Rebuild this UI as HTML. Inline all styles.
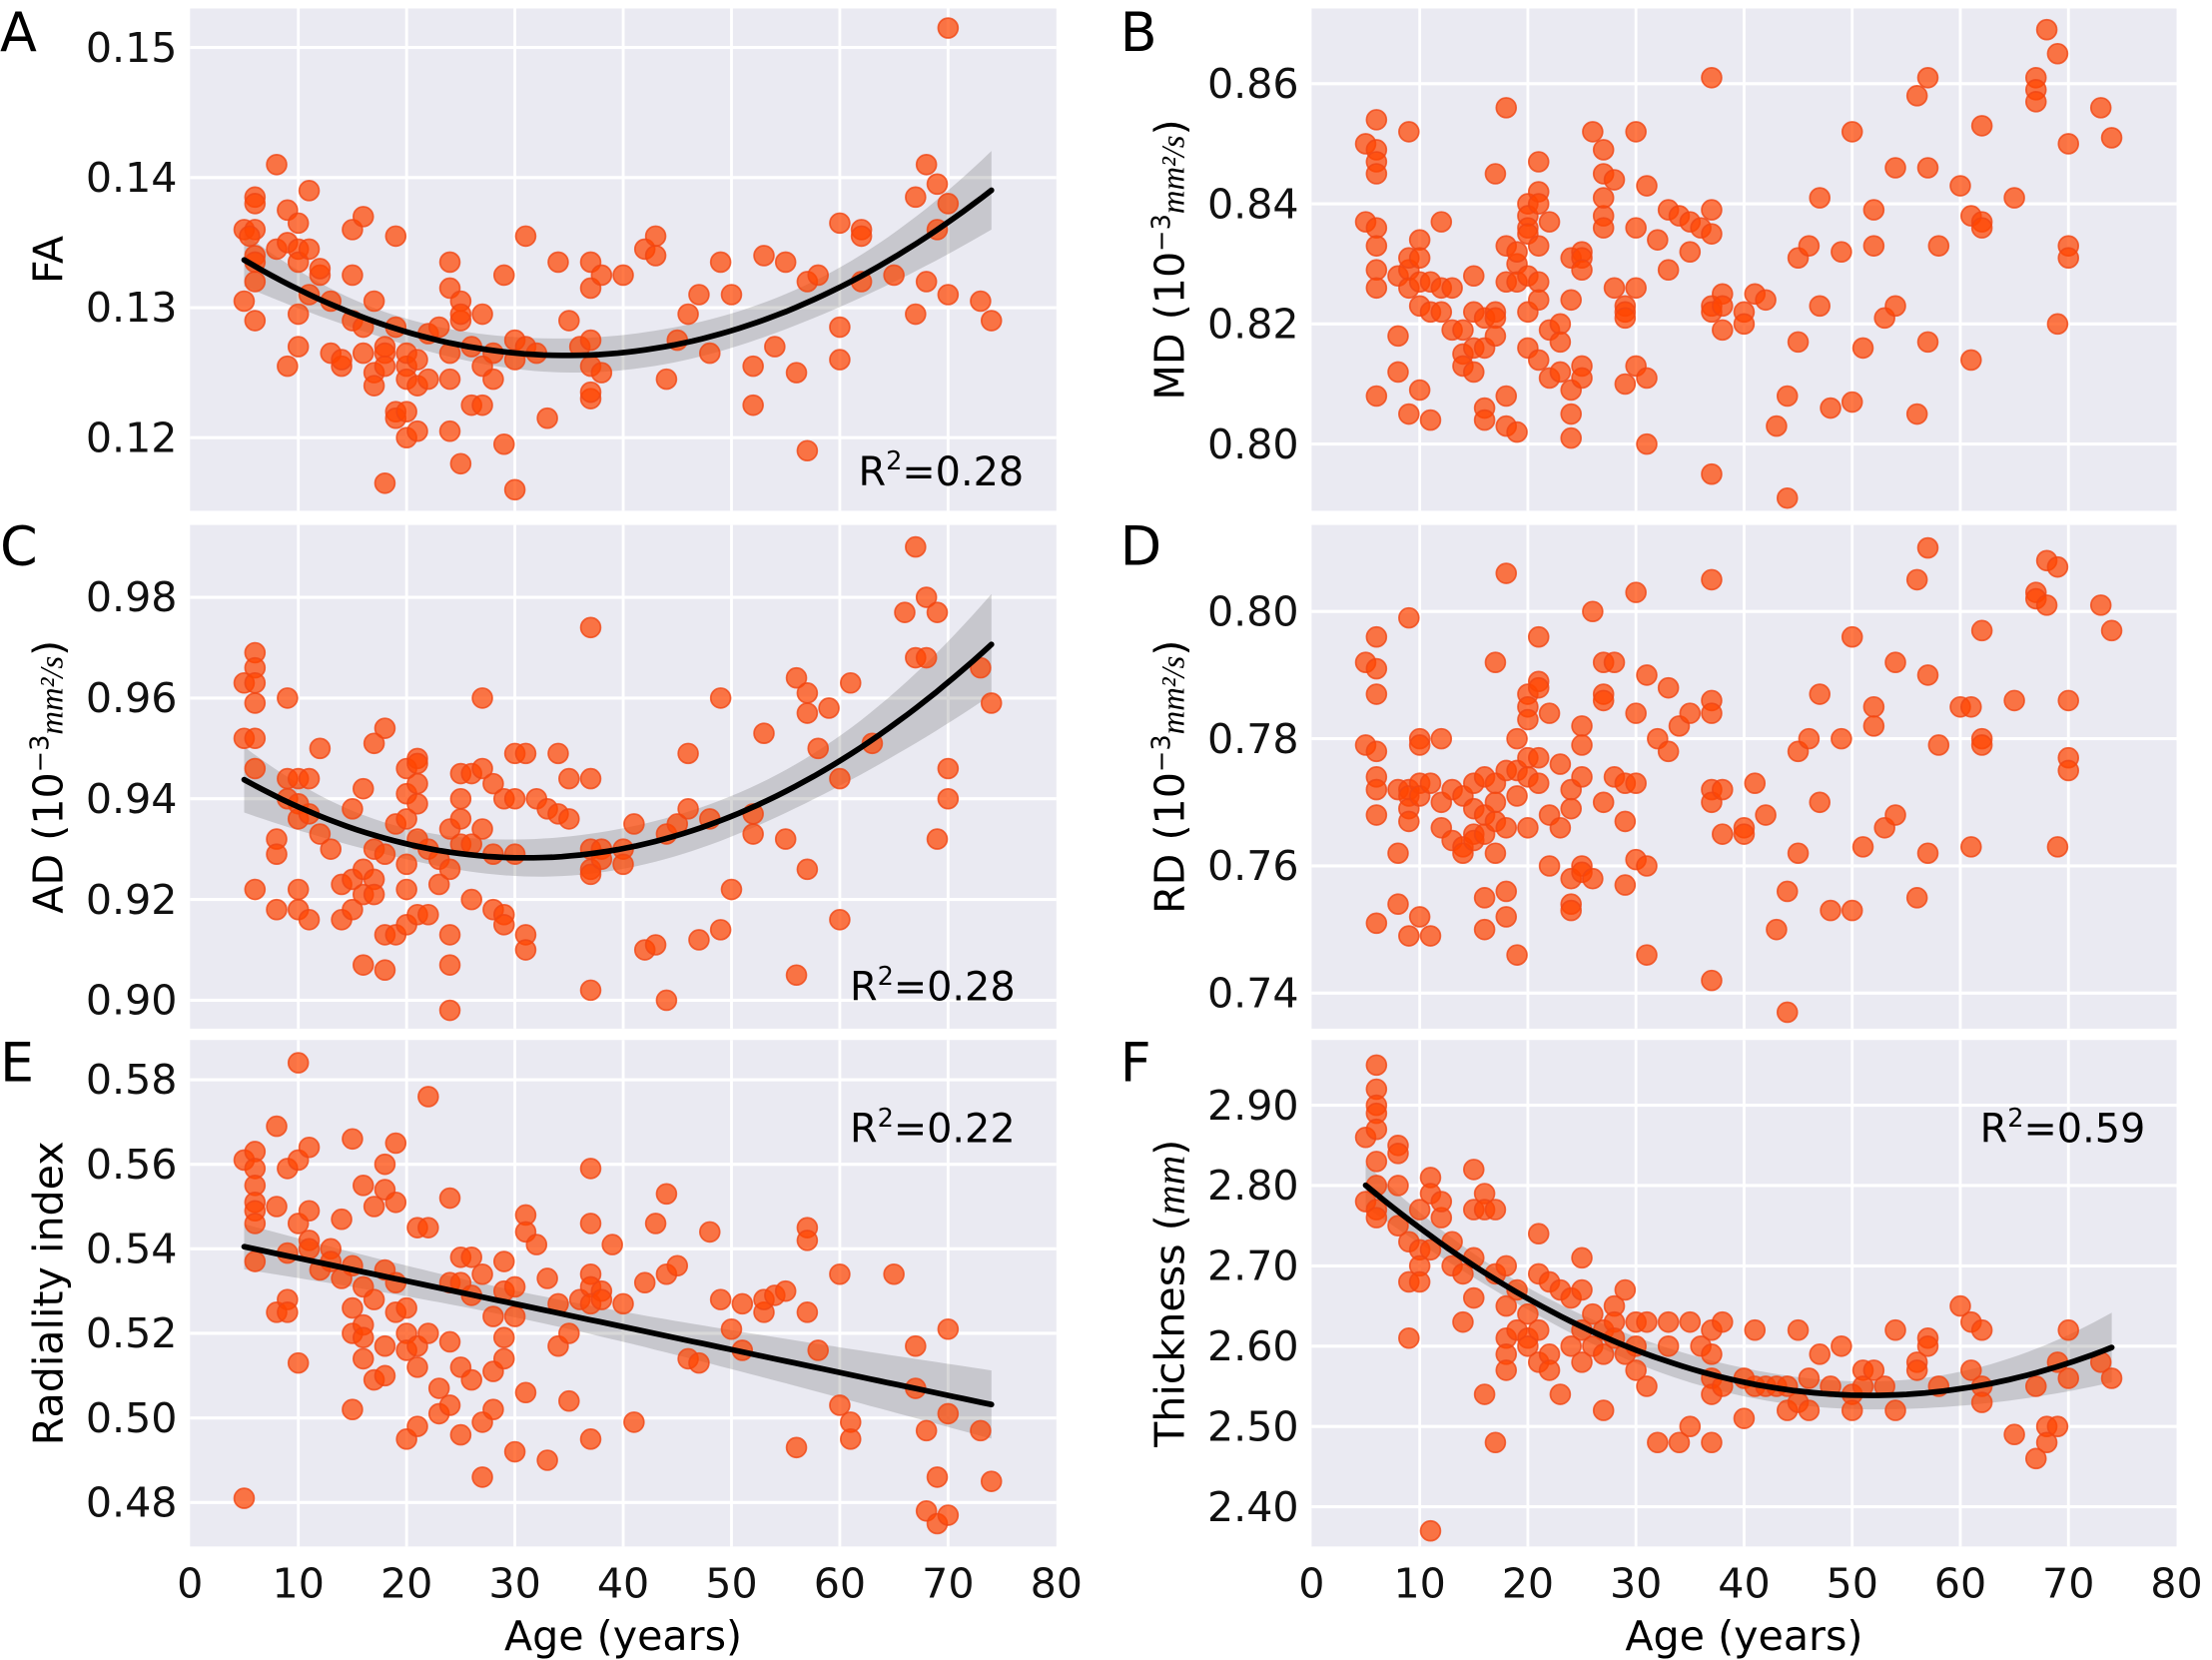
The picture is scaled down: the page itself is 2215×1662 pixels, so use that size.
<!DOCTYPE html>
<html><head><meta charset="utf-8">
<style>
html,body{margin:0;padding:0;background:#fff;}
svg{display:block;font-family:"DejaVu Sans","Liberation Sans",sans-serif;}
</style></head>
<body>
<svg id="fig" width="2215" height="1662" viewBox="0 0 1560 1170" preserveAspectRatio="none" xmlns="http://www.w3.org/2000/svg"></svg>
<script>
const xTicks = [0,10,20,30,40,50,60,70,80];
const ptsA = [[5,0.136],[5,0.1305],[6,0.1385],[6,0.138],[6,0.136],[6,0.134],[6,0.132],[6,0.129],[6,0.1335],[5.5,0.1355],[8,0.141],[8,0.1345],[9,0.135],[9,0.1375],[9,0.1255],[10,0.1345],[10,0.1365],[10,0.1335],[10,0.1295],[10,0.127],[11,0.139],[11,0.1345],[11,0.131],[12,0.1325],[12,0.133],[13,0.1265],[13,0.1305],[14,0.1255],[14,0.126],[15,0.136],[15,0.1325],[15,0.129],[16,0.137],[16,0.1285],[16,0.1265],[17,0.125],[17,0.124],[17,0.1305],[18,0.127],[18,0.1265],[18,0.1255],[18,0.1165],[19,0.1355],[19,0.1285],[19,0.122],[19,0.1215],[20,0.1255],[20,0.1245],[20,0.1265],[20,0.122],[20,0.12],[21,0.126],[21,0.124],[21,0.1205],[22,0.128],[22,0.1245],[23,0.1285],[24,0.1335],[24,0.1315],[24,0.1265],[24,0.1245],[24,0.1205],[25,0.129],[25,0.1305],[25,0.1295],[25,0.118],[26,0.127],[26,0.1225],[27,0.1295],[27,0.1255],[27,0.1225],[28,0.1265],[28,0.1245],[29,0.1325],[29,0.1195],[30,0.1275],[30,0.126],[30,0.116],[31,0.1355],[31,0.127],[32,0.1265],[33,0.1215],[34,0.1335],[35,0.129],[36,0.127],[37,0.1335],[37,0.1315],[37,0.1275],[37,0.1255],[37,0.123],[37,0.1235],[38,0.1325],[38,0.125],[40,0.1325],[42,0.1345],[43,0.1355],[43,0.134],[44,0.1245],[45,0.1275],[46,0.1295],[47,0.131],[48,0.1265],[49,0.1335],[50,0.131],[52,0.1255],[52,0.1225],[53,0.134],[54,0.127],[55,0.1335],[56,0.125],[57,0.119],[57,0.132],[58,0.1325],[60,0.1365],[60,0.1285],[60,0.126],[62,0.136],[62,0.1355],[62,0.132],[65,0.1325],[67,0.1385],[67,0.1295],[68,0.141],[68,0.132],[69,0.1395],[69,0.136],[70,0.138],[70,0.131],[70,0.1515],[73,0.1305],[74,0.129]];
const ptsB = [[5,0.850],[5,0.837],[6,0.854],[6,0.849],[6,0.847],[6,0.845],[6,0.836],[6,0.833],[6,0.829],[6,0.826],[6,0.808],[8,0.828],[8,0.818],[8,0.812],[9,0.852],[9,0.829],[9,0.831],[9,0.826],[9,0.805],[10,0.834],[10,0.831],[10,0.827],[10,0.823],[10,0.809],[11,0.827],[11,0.804],[11,0.822],[12,0.837],[12,0.826],[12,0.822],[13,0.819],[13,0.826],[14,0.819],[14,0.815],[14,0.813],[15,0.828],[15,0.822],[15,0.816],[15,0.812],[16,0.821],[16,0.816],[16,0.806],[16,0.804],[17,0.845],[17,0.822],[17,0.821],[17,0.818],[18,0.856],[18,0.833],[18,0.827],[18,0.808],[18,0.803],[19,0.830],[19,0.832],[19,0.827],[19,0.802],[20,0.840],[20,0.838],[20,0.836],[20,0.835],[20,0.828],[20,0.822],[20,0.816],[21,0.847],[21,0.842],[21,0.840],[21,0.833],[21,0.827],[21,0.824],[21,0.814],[22,0.837],[22,0.819],[22,0.811],[23,0.820],[23,0.817],[23,0.812],[24,0.831],[24,0.824],[24,0.809],[24,0.805],[24,0.801],[25,0.832],[25,0.831],[25,0.829],[25,0.813],[25,0.811],[26,0.852],[27,0.849],[27,0.845],[27,0.838],[27,0.836],[27,0.841],[28,0.844],[28,0.826],[29,0.823],[29,0.822],[29,0.821],[29,0.810],[30,0.852],[30,0.836],[30,0.826],[30,0.813],[31,0.843],[31,0.811],[31,0.800],[32,0.834],[33,0.839],[33,0.829],[34,0.838],[35,0.837],[35,0.832],[36,0.836],[37,0.861],[37,0.839],[37,0.835],[37,0.823],[37,0.822],[37,0.795],[38,0.825],[38,0.823],[38,0.819],[40,0.822],[40,0.820],[41,0.825],[42,0.824],[43,0.803],[44,0.808],[44,0.791],[45,0.831],[45,0.817],[46,0.833],[47,0.841],[47,0.823],[48,0.806],[49,0.832],[50,0.852],[50,0.807],[51,0.816],[52,0.839],[52,0.833],[53,0.821],[54,0.846],[54,0.823],[56,0.858],[56,0.805],[57,0.861],[57,0.846],[57,0.817],[58,0.833],[60,0.843],[61,0.838],[61,0.814],[62,0.853],[62,0.837],[62,0.836],[65,0.841],[67,0.861],[67,0.859],[67,0.857],[68,0.869],[69,0.865],[69,0.820],[70,0.850],[70,0.833],[70,0.831],[73,0.856],[74,0.851]];
const ptsC = [[5,0.963],[5,0.952],[6,0.969],[6,0.966],[6,0.963],[6,0.959],[6,0.952],[6,0.946],[6,0.922],[8,0.932],[8,0.929],[8,0.918],[9,0.960],[9,0.944],[9,0.940],[10,0.944],[10,0.939],[10,0.936],[10,0.922],[10,0.918],[11,0.944],[11,0.937],[11,0.916],[12,0.950],[12,0.933],[13,0.930],[14,0.923],[14,0.916],[15,0.938],[15,0.924],[15,0.918],[16,0.942],[16,0.926],[16,0.921],[16,0.907],[17,0.951],[17,0.930],[17,0.924],[17,0.921],[18,0.954],[18,0.929],[18,0.913],[18,0.906],[19,0.935],[19,0.913],[20,0.946],[20,0.941],[20,0.936],[20,0.927],[20,0.922],[20,0.915],[21,0.948],[21,0.947],[21,0.943],[21,0.939],[21,0.932],[21,0.917],[22,0.930],[22,0.917],[23,0.928],[23,0.923],[24,0.934],[24,0.926],[24,0.913],[24,0.907],[24,0.898],[25,0.945],[25,0.940],[25,0.936],[25,0.931],[26,0.945],[26,0.931],[26,0.920],[27,0.960],[27,0.946],[27,0.934],[28,0.943],[28,0.929],[28,0.918],[29,0.940],[29,0.917],[29,0.915],[30,0.949],[30,0.940],[30,0.929],[31,0.949],[31,0.913],[31,0.910],[32,0.940],[33,0.938],[34,0.949],[34,0.937],[35,0.944],[35,0.936],[37,0.974],[37,0.944],[37,0.930],[37,0.926],[37,0.925],[37,0.902],[38,0.930],[38,0.928],[40,0.930],[40,0.927],[41,0.935],[42,0.910],[43,0.911],[44,0.933],[44,0.900],[45,0.935],[46,0.938],[46,0.949],[47,0.912],[48,0.936],[49,0.914],[49,0.960],[50,0.922],[52,0.937],[52,0.933],[53,0.953],[55,0.932],[56,0.964],[56,0.905],[57,0.961],[57,0.957],[57,0.926],[58,0.950],[59,0.958],[60,0.944],[60,0.916],[61,0.963],[63,0.951],[66,0.977],[67,0.968],[67,0.990],[68,0.980],[68,0.968],[69,0.977],[69,0.932],[70,0.946],[70,0.940],[73,0.966],[74,0.959]];
const ptsD = [[5,0.792],[5,0.779],[6,0.796],[6,0.791],[6,0.787],[6,0.778],[6,0.774],[6,0.772],[6,0.768],[6,0.751],[8,0.772],[8,0.762],[8,0.754],[9,0.799],[9,0.772],[9,0.771],[9,0.769],[9,0.767],[9,0.749],[10,0.780],[10,0.779],[10,0.773],[10,0.771],[10,0.752],[11,0.773],[11,0.749],[12,0.780],[12,0.770],[12,0.766],[13,0.772],[13,0.764],[14,0.771],[14,0.763],[14,0.762],[15,0.773],[15,0.769],[15,0.765],[15,0.764],[16,0.774],[16,0.768],[16,0.765],[16,0.755],[16,0.750],[17,0.792],[17,0.773],[17,0.770],[17,0.767],[17,0.762],[18,0.806],[18,0.775],[18,0.766],[18,0.756],[18,0.752],[19,0.780],[19,0.775],[19,0.771],[19,0.746],[20,0.787],[20,0.785],[20,0.783],[20,0.777],[20,0.774],[20,0.766],[21,0.796],[21,0.789],[21,0.788],[21,0.777],[21,0.773],[22,0.784],[22,0.768],[22,0.760],[23,0.776],[23,0.766],[24,0.772],[24,0.769],[24,0.758],[24,0.754],[24,0.753],[25,0.782],[25,0.779],[25,0.774],[25,0.760],[25,0.759],[26,0.800],[26,0.758],[27,0.792],[27,0.787],[27,0.786],[27,0.770],[28,0.792],[28,0.774],[29,0.773],[29,0.767],[29,0.757],[30,0.803],[30,0.784],[30,0.773],[30,0.761],[31,0.790],[31,0.760],[31,0.746],[32,0.780],[33,0.788],[33,0.778],[34,0.782],[35,0.784],[37,0.805],[37,0.786],[37,0.784],[37,0.772],[37,0.770],[37,0.742],[38,0.772],[38,0.765],[40,0.766],[40,0.765],[41,0.773],[42,0.768],[43,0.750],[44,0.756],[44,0.737],[45,0.762],[45,0.778],[46,0.780],[47,0.787],[47,0.770],[48,0.753],[49,0.780],[50,0.796],[50,0.753],[51,0.763],[52,0.785],[52,0.782],[53,0.766],[54,0.792],[54,0.768],[56,0.805],[56,0.755],[57,0.810],[57,0.790],[57,0.762],[58,0.779],[60,0.785],[61,0.785],[61,0.763],[62,0.797],[62,0.780],[62,0.779],[65,0.786],[67,0.803],[67,0.802],[68,0.808],[68,0.801],[69,0.807],[69,0.763],[70,0.786],[70,0.777],[70,0.775],[73,0.801],[74,0.797]];
const ptsE = [[5,0.561],[5,0.481],[6,0.563],[6,0.559],[6,0.555],[6,0.551],[6,0.549],[6,0.546],[6,0.537],[8,0.569],[8,0.550],[8,0.525],[9,0.559],[9,0.539],[9,0.528],[9,0.525],[10,0.584],[10,0.561],[10,0.546],[10,0.513],[11,0.564],[11,0.549],[11,0.542],[11,0.540],[12,0.535],[13,0.540],[13,0.537],[14,0.547],[14,0.533],[15,0.566],[15,0.536],[15,0.526],[15,0.520],[15,0.502],[16,0.555],[16,0.531],[16,0.522],[16,0.519],[16,0.514],[17,0.550],[17,0.528],[17,0.509],[18,0.560],[18,0.554],[18,0.535],[18,0.517],[18,0.510],[19,0.565],[19,0.551],[19,0.532],[19,0.525],[20,0.526],[20,0.520],[20,0.516],[20,0.495],[21,0.545],[21,0.517],[21,0.512],[21,0.498],[22,0.576],[22,0.545],[22,0.520],[23,0.507],[23,0.501],[24,0.552],[24,0.532],[24,0.518],[24,0.503],[25,0.538],[25,0.532],[25,0.512],[25,0.496],[26,0.538],[26,0.529],[26,0.509],[27,0.534],[27,0.486],[27,0.499],[28,0.524],[28,0.511],[28,0.502],[29,0.537],[29,0.530],[29,0.519],[29,0.514],[30,0.531],[30,0.524],[30,0.492],[31,0.548],[31,0.544],[31,0.506],[32,0.541],[33,0.533],[33,0.490],[34,0.527],[34,0.517],[35,0.504],[35,0.520],[36,0.528],[37,0.559],[37,0.546],[37,0.534],[37,0.531],[37,0.527],[37,0.495],[38,0.530],[38,0.528],[39,0.541],[40,0.527],[41,0.499],[42,0.532],[43,0.546],[44,0.553],[44,0.534],[45,0.536],[46,0.514],[47,0.513],[48,0.544],[49,0.528],[50,0.521],[51,0.516],[51,0.527],[53,0.525],[53,0.528],[54,0.529],[55,0.530],[56,0.493],[57,0.545],[57,0.542],[57,0.525],[58,0.516],[60,0.534],[60,0.503],[61,0.499],[61,0.495],[65,0.534],[67,0.517],[67,0.507],[68,0.478],[68,0.497],[69,0.475],[69,0.486],[70,0.521],[70,0.501],[70,0.477],[73,0.497],[74,0.485]];
const ptsF = [[5,2.86],[5,2.78],[6,2.95],[6,2.92],[6,2.90],[6,2.89],[6,2.87],[6,2.83],[6,2.80],[6,2.77],[6,2.76],[8,2.85],[8,2.84],[8,2.80],[8,2.75],[9,2.73],[9,2.68],[9,2.61],[10,2.72],[10,2.70],[10,2.68],[10,2.77],[11,2.81],[11,2.79],[11,2.72],[11,2.37],[12,2.76],[12,2.78],[13,2.70],[13,2.73],[14,2.69],[14,2.63],[15,2.82],[15,2.77],[15,2.71],[15,2.66],[16,2.79],[16,2.77],[16,2.54],[17,2.77],[17,2.69],[17,2.48],[18,2.70],[18,2.65],[18,2.61],[18,2.59],[18,2.57],[19,2.67],[19,2.62],[20,2.64],[20,2.61],[20,2.60],[21,2.74],[21,2.69],[21,2.62],[21,2.58],[22,2.68],[22,2.59],[22,2.57],[23,2.67],[23,2.54],[24,2.66],[24,2.60],[25,2.71],[25,2.67],[25,2.62],[25,2.58],[26,2.64],[26,2.60],[27,2.62],[27,2.59],[27,2.52],[28,2.65],[28,2.63],[28,2.61],[29,2.67],[29,2.59],[30,2.63],[30,2.60],[30,2.57],[31,2.63],[31,2.55],[32,2.48],[33,2.63],[33,2.60],[34,2.48],[35,2.63],[35,2.50],[36,2.60],[37,2.62],[37,2.59],[37,2.56],[37,2.54],[37,2.48],[38,2.63],[38,2.55],[40,2.56],[40,2.51],[41,2.62],[41,2.55],[42,2.55],[43,2.55],[44,2.55],[44,2.52],[45,2.53],[45,2.62],[46,2.56],[46,2.52],[47,2.59],[48,2.55],[49,2.60],[50,2.54],[50,2.52],[51,2.57],[51,2.55],[52,2.57],[53,2.55],[54,2.62],[54,2.52],[56,2.58],[56,2.57],[57,2.61],[57,2.60],[58,2.55],[60,2.65],[61,2.63],[61,2.57],[62,2.62],[62,2.55],[62,2.53],[65,2.49],[67,2.46],[67,2.55],[68,2.50],[68,2.48],[69,2.50],[69,2.58],[70,2.62],[70,2.56],[73,2.58],[74,2.56]];
const yTicksA = [0.12,0.13,0.14,0.15];
const yTicksB = [0.80,0.82,0.84,0.86];
const yTicksC = [0.90,0.92,0.94,0.96,0.98];
const yTicksD = [0.74,0.76,0.78,0.80];
const yTicksE = [0.48,0.50,0.52,0.54,0.56,0.58];
const yTicksF = [2.40,2.50,2.60,2.70,2.80,2.90];
const r2Labels = ["0.28","0.28","0.22","0.59"];

const NS="http://www.w3.org/2000/svg";
const svg=document.getElementById('fig');
function mk(tag,attrs,parent){const e=document.createElementNS(NS,tag);for(const k in attrs)e.setAttribute(k,attrs[k]);(parent||svg).appendChild(e);return e;}

function solve(M){
  const n=M.length;const A=M.map((r,i)=>r.concat(Array.from({length:n},(_,j)=>i===j?1:0)));
  for(let i=0;i<n;i++){let p=i;for(let r=i+1;r<n;r++)if(Math.abs(A[r][i])>Math.abs(A[p][i]))p=r;[A[i],A[p]]=[A[p],A[i]];
    const d=A[i][i];for(let j=0;j<2*n;j++)A[i][j]/=d;
    for(let r=0;r<n;r++)if(r!==i){const f=A[r][i];for(let j=0;j<2*n;j++)A[r][j]-=f*A[i][j];}}
  return A.map(r=>r.slice(n));
}
function fit(pts,deg){
  const n=deg+1;const XtX=Array.from({length:n},()=>Array(n).fill(0));const Xty=Array(n).fill(0);
  const sc=x=>(x-40)/40;
  pts.forEach(([x,y])=>{const v=[];for(let k=0;k<n;k++)v.push(Math.pow(sc(x),k));
    for(let i=0;i<n;i++){Xty[i]+=v[i]*y;for(let j=0;j<n;j++)XtX[i][j]+=v[i]*v[j];}});
  const inv=solve(XtX);const b=inv.map(r=>r.reduce((s,c,j)=>s+c*Xty[j],0));
  const pred=x=>{let s=0;for(let k=0;k<n;k++)s+=b[k]*Math.pow(sc(x),k);return s;};
  let rss=0;pts.forEach(([x,y])=>{rss+=(y-pred(x))**2;});const s2=rss/(pts.length-n);
  const se=x=>{const v=[];for(let k=0;k<n;k++)v.push(Math.pow(sc(x),k));let q=0;for(let i=0;i<n;i++)for(let j=0;j<n;j++)q+=v[i]*inv[i][j]*v[j];return Math.sqrt(s2*q);};
  return {pred,se};
}

const panels=[
 {id:'A',pts:ptsA,ticks:yTicksA,fmt:2,L:134,R:745,T:6,B:360,map:[0.15,33.5,0.12,308.5],deg:2,label:'FA',r2:0,r2x:722,r2y:342,letter:[0,36]},
 {id:'B',pts:ptsB,ticks:yTicksB,fmt:2,L:925,R:1535,T:6,B:360,map:[0.86,59,0.80,313],deg:0,label:'MD',r2:-1,letter:[790,36]},
 {id:'C',pts:ptsC,ticks:yTicksC,fmt:2,L:134,R:745,T:370,B:725,map:[0.98,421,0.90,705],deg:2,label:'AD',r2:1,r2x:716,r2y:705,letter:[0,398]},
 {id:'D',pts:ptsD,ticks:yTicksD,fmt:2,L:925,R:1535,T:370,B:725,map:[0.80,431,0.74,700],deg:0,label:'RD',r2:-1,letter:[790,398]},
 {id:'E',pts:ptsE,ticks:yTicksE,fmt:2,L:134,R:745,T:733,B:1090,map:[0.58,761,0.48,1059],deg:1,label:'Radiality index',r2:2,r2x:716,r2y:805,letter:[0,762]},
 {id:'F',pts:ptsF,ticks:yTicksF,fmt:2,L:925,R:1535,T:733,B:1090,map:[2.90,779,2.40,1062],deg:2,label:'Thickness',r2:3,r2x:1513,r2y:805,letter:[790,762]}
];

panels.forEach(p=>{
  const g=mk('g',{});
  
  
  const xs=a=>p.L+(a-0)/(80-0)*(p.R-p.L);
  const ys=v=>p.map[1]+(v-p.map[0])/(p.map[2]-p.map[0])*(p.map[3]-p.map[1]);
  const bg=mk('rect',{x:p.L,y:p.T,width:p.R-p.L,height:p.B-p.T,fill:'#eaeaf2'},g);
  
  
  xTicks.forEach(t=>{
    const x=xs(t);
    if(t>0&&t<80){const gl=mk('line',{x1:x,x2:x,y1:p.T,y2:p.B,stroke:'#fff','stroke-width':2},g);
      
      }
  });
  p.ticks.forEach(t=>{
    const y=ys(t);
    const gl=mk('line',{x1:p.L,x2:p.R,y1:y,y2:y,stroke:'#fff','stroke-width':2.2},g);
    
    
    const tl=mk('text',{x:p.L-9,y:y+10,'text-anchor':'end','font-size':29,fill:'#111'},g);
    tl.textContent=t.toFixed(p.fmt);
    
    
  });
  if(p.deg>0){
    const f=fit(p.pts,p.deg);
    const xsS=p.pts.map(q=>q[0]);const mn=Math.min(...xsS),mx=Math.max(...xsS);
    const up=[],lo=[],ln=[];
    for(let i=0;i<=80;i++){const a=mn+(mx-mn)*i/80;const m=f.pred(a),s=1.97*f.se(a);
      up.push(xs(a).toFixed(1)+','+ys(m+s).toFixed(1));lo.unshift(xs(a).toFixed(1)+','+ys(m-s).toFixed(1));ln.push(xs(a).toFixed(1)+','+ys(m).toFixed(1));}
    const band=mk('polygon',{points:up.concat(lo).join(' '),fill:'rgba(60,60,60,0.2)'},g);
    
    
    p._line=ln;
  }
  p.pts.forEach(([a,v])=>{
    const c=mk('circle',{cx:xs(a),cy:ys(v),r:7,fill:'rgba(255,69,0,0.72)',stroke:'rgba(240,70,20,0.8)','stroke-width':1.2},g);
    
    
  });
  if(p._line){
    const fl=mk('polyline',{points:p._line.join(' '),fill:'none',stroke:'#000','stroke-width':4,'stroke-linecap':'round'},g);
    
    
  }
  const lt=mk('text',{x:p.letter[0],y:p.letter[1],'font-size':38,fill:'#000'},g);
  lt.textContent=p.id;
  
  
  if(p.r2>=0){
    const rt=mk('text',{x:p.r2x,y:p.r2y,'text-anchor':'end','font-size':28,fill:'#000'},g);
    rt.innerHTML='R<tspan dy="-11" font-size="18">2</tspan><tspan dy="11">='+r2Labels[p.r2]+'</tspan>';
    
    
  }
  const cy=(p.T+p.B)/2;const lx=p.L<500?44:835;
  const yl=mk('text',{x:0,y:0,transform:'translate('+lx+','+cy+') rotate(-90)','text-anchor':'middle','font-size':29,fill:'#000'},g);
  if(p.label==='MD'||p.label==='AD'||p.label==='RD'){
    yl.innerHTML=p.label+' (10<tspan dy="-10" font-size="18">−3</tspan><tspan dy="10" font-style="italic" font-family="Liberation Serif,serif" font-size="23">mm²/s</tspan>)';
  } else if(p.label==='Thickness'){
    yl.innerHTML='Thickness (<tspan font-style="italic" font-family="Liberation Serif,serif">mm</tspan>)';
  } else yl.textContent=p.label;
  
  
  if(p.id==='E'||p.id==='F'){
    xTicks.forEach(t=>{
      const tl=mk('text',{x:xs(t),y:1126,'text-anchor':'middle','font-size':29,fill:'#111'},g);
      tl.textContent=t;
      
      
    });
    const xl=mk('text',{x:(p.L+p.R)/2,y:1163,'text-anchor':'middle','font-size':29,fill:'#000'},g);
    xl.textContent='Age (years)';
    
    
  }
});
</script>
</body></html>
